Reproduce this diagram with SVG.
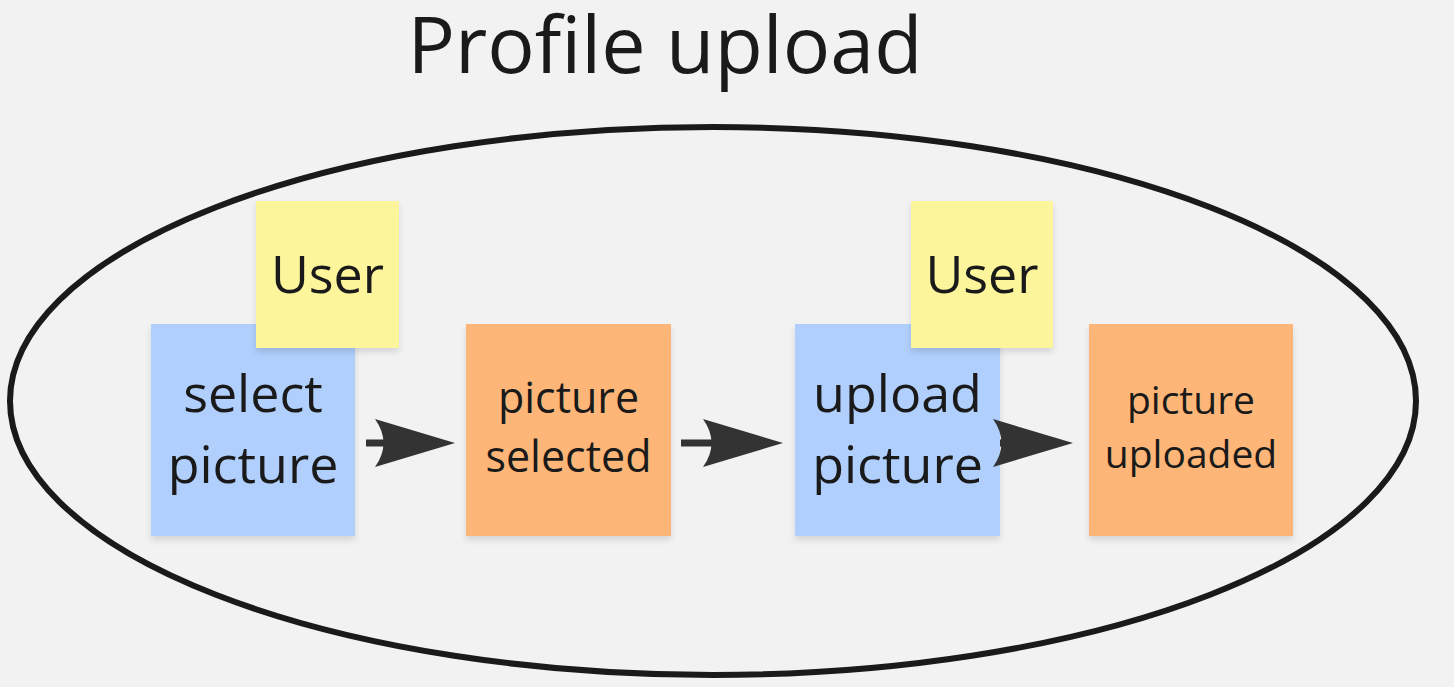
<svg xmlns="http://www.w3.org/2000/svg" width="1454" height="687" viewBox="0 0 1454 687">
<style>
text{font-family:"Open Sans","Noto Sans",sans-serif;fill:#1a1a1a;text-anchor:middle}
.blue{fill:#b0cffd}
.yellow{fill:#fdf59b}
.orange{fill:#fdb677}
.note{filter:url(#sh)}
.conn{stroke:#333;stroke-width:7;fill:none}
.big{font-size:52px}
</style>
<defs>
<filter id="sh" x="-10%" y="-10%" width="120%" height="125%">
<feDropShadow dx="0" dy="4" stdDeviation="3" flood-color="#000" flood-opacity="0.12"/>
</filter>
<marker id="ah" markerUnits="userSpaceOnUse" viewBox="0 0 80 48" markerWidth="80" markerHeight="48" refX="40" refY="24" orient="auto">
<path d="M80,24 L0,0 Q17,24 0,48 Z" fill="#333"/>
</marker>
</defs>
<rect width="1454" height="687" fill="#f2f2f2"/>
<text x="665" y="73" style="font-size:79px">Profile upload</text>
<ellipse id="boundary" cx="713" cy="401" rx="703" ry="274" fill="none" stroke="#1a1a1a" stroke-width="6"/>
<g id="select-picture"><rect class="note blue" x="151" y="324" width="204" height="212"/><text class="big" x="253" y="412">select</text><text class="big" x="253" y="483">picture</text></g>
<g id="user-1"><rect class="note yellow" x="256" y="201" width="143" height="147"/><text class="big" x="327.5" y="293">User</text></g>
<g id="picture-selected"><rect class="note orange" x="466" y="324" width="205" height="212"/><text x="568.5" y="413" style="font-size:43px">picture</text><text x="568.5" y="472" style="font-size:43px">selected</text></g>
<g id="upload-picture"><rect class="note blue" x="795" y="324" width="205" height="212"/><text class="big" x="897.5" y="412">upload</text><text class="big" x="897.5" y="483">picture</text></g>
<g id="user-2"><rect class="note yellow" x="911" y="201" width="142" height="147"/><text class="big" x="982" y="293">User</text></g>
<g id="picture-uploaded"><rect class="note orange" x="1089" y="324" width="204" height="212"/><text x="1191" y="414" style="font-size:39px">picture</text><text x="1191" y="468" style="font-size:39px">uploaded</text></g>
<g id="connectors">
<line class="conn" x1="366" y1="443" x2="415" y2="443" marker-end="url(#ah)"/>
<line class="conn" x1="681" y1="443" x2="743" y2="443" marker-end="url(#ah)"/>
<line class="conn" x1="1000" y1="443" x2="1033" y2="443" marker-end="url(#ah)"/>
</g>
</svg>
